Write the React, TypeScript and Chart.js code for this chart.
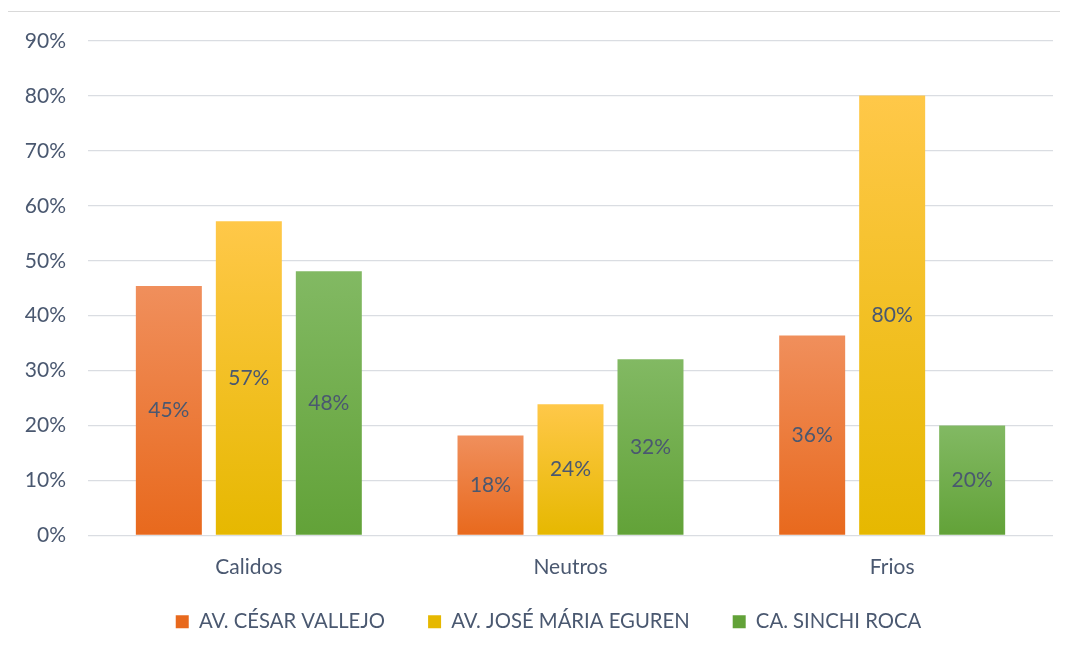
import React, { useEffect, useRef } from "react";
import { Chart, registerables } from "chart.js";

Chart.register(...registerables);

const categories = ["Calidos", "Neutros", "Frios"];
const seriesNames = ["AV. CÉSAR VALLEJO", "AV. JOSÉ MÁRIA EGUREN", "CA. SINCHI ROCA"];
const cesarVallejo = [45.4, 18.2, 36.4];
const joseMariaEguren = [57.2, 23.9, 80.1];
const sinchiRoca = [48.1, 32.1, 20.0];
const yMin = 0;
const yMax = 90;
const yStep = 10;

const gradientStops = [
  { top: "#F08F5C", bottom: "#E8691D", solid: "#ED7D31" },
  { top: "#FFC849", bottom: "#E6B800", solid: "#FFC000" },
  { top: "#82B963", bottom: "#62A238", solid: "#70AD47" },
];

const TEXT_COLOR = "#4A5870";
const FONT_FAMILY = "Lato, 'Noto Sans', sans-serif";
const FONT_SIZE = 21;

function makeBg(idx: number) {
  return (ctx: any) => {
    const chart = ctx.chart;
    const c = gradientStops[idx];
    if (ctx.type !== "data" || !chart.chartArea || !chart.scales.y) return c.solid;
    const ys = chart.scales.y;
    const top = ys.getPixelForValue(ctx.raw);
    const bottom = ys.getPixelForValue(0);
    if (!isFinite(top) || !isFinite(bottom) || top === bottom) return c.solid;
    const g = chart.ctx.createLinearGradient(0, top, 0, bottom);
    g.addColorStop(0, c.top);
    g.addColorStop(1, c.bottom);
    return g;
  };
}

const valueLabels = {
  id: "valueLabels",
  afterDatasetsDraw(chart: any) {
    const ctx = chart.ctx;
    ctx.save();
    ctx.font = `${FONT_SIZE}px ${FONT_FAMILY}`;
    ctx.fillStyle = TEXT_COLOR;
    ctx.textAlign = "center";
    ctx.textBaseline = "middle";
    chart.data.datasets.forEach((ds: any, i: number) => {
      const meta = chart.getDatasetMeta(i);
      meta.data.forEach((bar: any, j: number) => {
        const { x, y, base } = bar.getProps(["x", "y", "base"], true);
        ctx.fillText(Math.round(ds.data[j]) + "%", x, (y + base) / 2);
      });
    });
    ctx.restore();
  },
};

const legendShift = {
  id: "legendShift",
  afterLayout(chart: any) {
    const lg = chart.legend;
    if (!lg) return;
    lg.top -= 30;
    lg.bottom -= 30;
    lg.left += 18;
    lg.right += 18;
  },
};

export default function App() {
  const ref = useRef<HTMLCanvasElement>(null);
  useEffect(() => {
    if (!ref.current) return;
    const seriesData = [cesarVallejo, joseMariaEguren, sinchiRoca];
    const chart = new Chart(ref.current, {
      type: "bar",
      data: {
        labels: categories,
        datasets: seriesData.map((d, i) => ({
          label: seriesNames[i],
          data: d,
          backgroundColor: makeBg(i),
          borderWidth: 0,
          categoryPercentage: 0.746,
          barPercentage: 0.825,
        })),
      },
      options: {
        animation: false,
        responsive: true,
        maintainAspectRatio: false,
        layout: { padding: { left: 0, right: 9, top: 29, bottom: 18 } },
        plugins: {
          tooltip: { enabled: false },
          legend: {
            position: "bottom",
            labels: {
              boxWidth: 13,
              boxHeight: 13,
              padding: 43,
              color: TEXT_COLOR,
              font: { family: FONT_FAMILY, size: 20.3 },
            },
          },
        },
        scales: {
          x: {
            grid: { display: false, drawTicks: false },
            border: { display: false },
            ticks: {
              color: TEXT_COLOR,
              font: { family: FONT_FAMILY, size: FONT_SIZE },
              padding: 19,
            },
          },
          y: {
            min: yMin,
            max: yMax,
            grid: { color: "#DADDE2", lineWidth: 1.3, drawTicks: false },
            border: { display: false },
            ticks: {
              stepSize: yStep,
              color: TEXT_COLOR,
              font: { family: FONT_FAMILY, size: FONT_SIZE },
              padding: 22,
              callback: (v: any) => v + "%",
            },
            afterFit: (scale: any) => {
              scale.width = 80;
              scale.paddingTop = 0;
              scale.paddingBottom = 0;
            },
          },
        },
      },
      plugins: [valueLabels, legendShift],
    });
    return () => chart.destroy();
  }, []);
  return (
    <div
      style={{
        position: "relative",
        top: 3,
        left: -1,
        width: 1056,
        height: 680,
        border: "1px solid #D9D9D9",
        boxSizing: "border-box",
      }}
    >
      <canvas ref={ref} />
    </div>
  );
}
